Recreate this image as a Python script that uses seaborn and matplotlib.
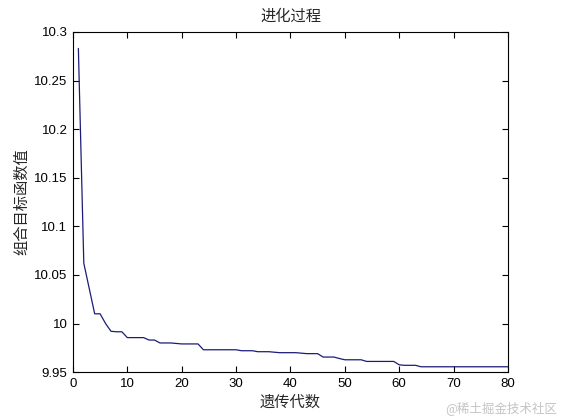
import numpy as np
import pandas as pd
import matplotlib
matplotlib.use("Agg")
import matplotlib.pyplot as plt
import seaborn as sns

# best combined objective value per generation
generations = list(range(1, 81))
objective = [
    10.283, 10.062, 10.036, 10.010, 10.010, 10.000, 9.992, 9.9915, 9.9915, 9.9855,
    9.9855, 9.9855, 9.9855, 9.983, 9.983, 9.980, 9.980, 9.980, 9.9795, 9.979,
    9.979, 9.979, 9.979, 9.973, 9.973, 9.973, 9.973, 9.973, 9.973, 9.973,
    9.972, 9.972, 9.972, 9.971, 9.971, 9.971, 9.9705, 9.970, 9.970, 9.970,
    9.970, 9.9695, 9.969, 9.969, 9.969, 9.9655, 9.9655, 9.9655, 9.964, 9.9627,
    9.9627, 9.9627, 9.9627, 9.961, 9.961, 9.961, 9.961, 9.961, 9.961, 9.9575,
    9.957, 9.957, 9.957, 9.9555, 9.9555, 9.9555, 9.9555, 9.9555, 9.9555, 9.9555,
    9.9555, 9.9555, 9.9555, 9.9555, 9.9555, 9.9555, 9.9555, 9.9555, 9.9555, 9.9555,
]
x_ticks = [0, 10, 20, 30, 40, 50, 60, 70, 80]
y_ticks = [9.95, 10.0, 10.05, 10.1, 10.15, 10.2, 10.25, 10.3]
y_tick_labels = ["9.95", "10", "10.05", "10.1", "10.15", "10.2", "10.25", "10.3"]

df = pd.DataFrame({"gen": generations, "val": objective})

sns.set_theme(style="white")
plt.rcParams['font.family'] = ['Liberation Sans', 'Noto Sans CJK SC', 'DejaVu Sans']

fig = plt.figure(figsize=(5.61, 4.2), dpi=100)
ax = fig.add_axes([0.13, 0.114, 0.7755, 0.81])

sns.lineplot(data=df, x="gen", y="val", ax=ax, color="#1c1c78", linewidth=0.9)

ax.set_xlim(0, 80)
ax.set_ylim(9.95, 10.3)
ax.set_xticks(x_ticks)
ax.set_yticks(y_ticks)
ax.set_yticklabels(y_tick_labels)
ax.tick_params(direction="in", length=4, width=0.8, colors="black", labelsize=9.5,
               top=True, right=True, bottom=True, left=True, pad=4)
for s in ax.spines.values():
    s.set_color("black")
    s.set_linewidth(0.8)

ax.set_title("进化过程", fontsize=11, pad=8, family=['Noto Sans CJK SC'])
ax.set_xlabel("遗传代数", fontsize=11, labelpad=3, family=['Noto Sans CJK SC'])
ax.set_ylabel("组合目标函数值", fontsize=11, labelpad=3, family=['Noto Sans CJK SC'])

fig.text(0.993, 0.012, "@稀土掘金技术社区", ha="right", va="bottom", fontsize=9,
         color="#c4c4c4", family=['Noto Sans CJK SC'])

fig.savefig("out.png", dpi=100, facecolor="white")
